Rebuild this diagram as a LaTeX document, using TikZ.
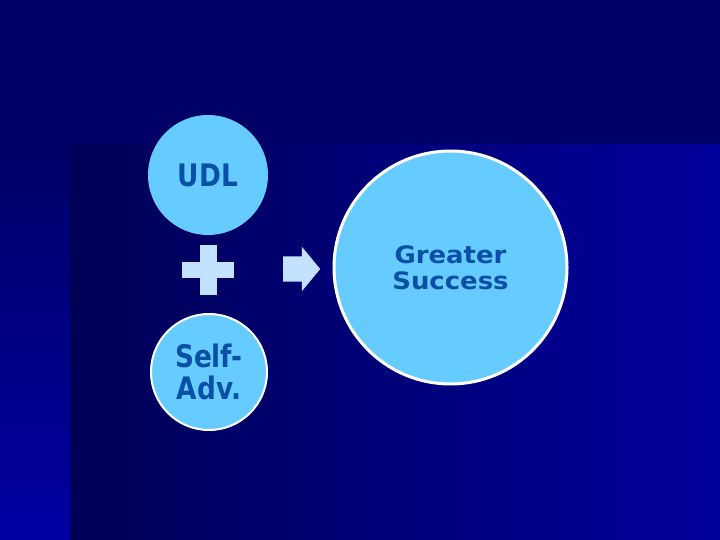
\documentclass[tikz,border=0pt]{standalone}
\usepackage{fontspec}
\setmainfont{DejaVu Sans}
\newfontfamily\slimface{DejaVu Sans}[FakeStretch=0.85]
\newfontfamily\broadface{DejaVu Sans}[FakeStretch=1.08]
\usepackage{tikz}
\usetikzlibrary{shapes.arrows,positioning}

\definecolor{band}{HTML}{000066}
\definecolor{deepL}{HTML}{000056}
\definecolor{deepR}{HTML}{00009C}
\definecolor{stripB}{HTML}{0000A2}
\definecolor{bubblefill}{HTML}{66CCFF}
\definecolor{bubbletext}{HTML}{0A50A6}
\definecolor{pale}{HTML}{C2E2FF}

\begin{document}
\begin{tikzpicture}[
    x=1pt, y=-1pt,
    bubble/.style={circle, fill=bubblefill, text=bubbletext, inner sep=0pt, align=center},
    small/.style={bubble, minimum size=120pt, font=\slimface\bfseries\fontsize{31}{32}\selectfont},
    smallring/.style={small, draw=white, line width=2pt, minimum size=116pt},
    big/.style={bubble, draw=white, line width=3pt, minimum size=233pt, font=\broadface\bfseries\fontsize{24}{26}\selectfont},
    pointer/.style={single arrow, fill=pale, inner sep=0pt, minimum height=37pt, single arrow head extend=9.5pt, single arrow head indent=0pt, single arrow tip angle=101}
]
    % background
    \fill[band] (0,0) rectangle (720,540);
    \fill[top color=band, bottom color=stripB] (0,145) rectangle (70,540);
    \fill[left color=deepL, right color=deepR] (70,145) rectangle (720,540);
    \useasboundingbox (0,0) rectangle (720,540);

    \node [small] (udl) at (208,175) {UDL};
    \node [smallring] (adv) at (209,372) {Self-\\Adv.};
    \node [big] (goal) at (450.5,267.5) {Greater\\Success};

    % plus sign
    \fill[pale] (200,245) rectangle (217,295);
    \fill[pale] (182,262) rectangle (234,278);

    \node [pointer, anchor=tail] (arrow) at (283,269) {\rule{0pt}{25pt}};
\end{tikzpicture}
\end{document}
